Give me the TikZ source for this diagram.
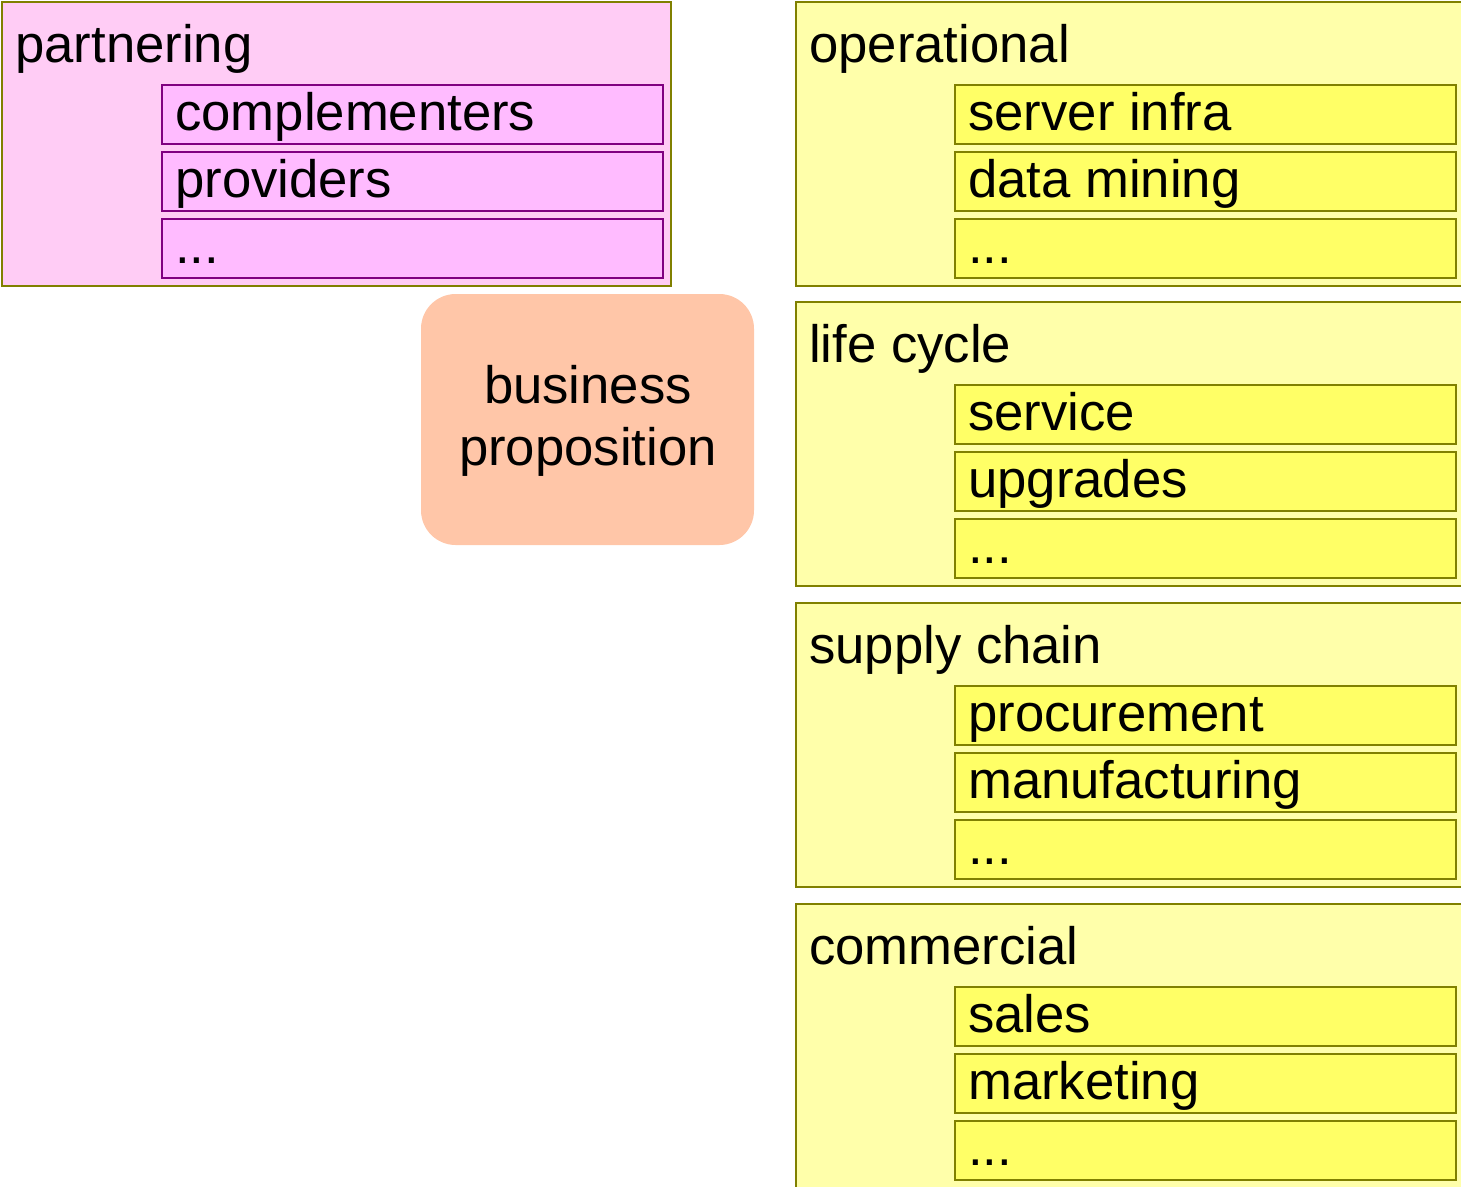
\documentclass[tikz,border=0pt]{standalone}
\usepackage{fontspec}
\setmainfont{Liberation Sans}
\definecolor{pinkbg}{HTML}{FFCCF5}
\definecolor{pinkin}{HTML}{FFBBFF}
\definecolor{purp}{HTML}{800080}
\definecolor{oliv}{HTML}{808000}
\definecolor{yelbg}{HTML}{FFFFAA}
\definecolor{yelin}{HTML}{FFFF66}
\definecolor{peach}{HTML}{FFC6A8}
\begin{document}
\begin{tikzpicture}[x=0.75pt,y=-0.75pt,
  pinkouter/.style={fill=pinkbg,draw=oliv,line width=1.5pt},
  pinkinner/.style={fill=pinkin,draw=purp,line width=1.5pt},
  yelouter/.style={fill=yelbg,draw=oliv,line width=1.5pt},
  yelinner/.style={fill=yelin,draw=oliv,line width=1.5pt},
  bpbox/.style={fill=peach,rounded corners=26pt},
  lbl/.style={anchor=base west,inner sep=0pt,font=\fontsize{39.5}{47}\selectfont},
  clbl/.style={anchor=base,inner sep=0pt,font=\fontsize{39.5}{47}\selectfont}]
\useasboundingbox (0,0) rectangle (1461,1186);
\clip (0,0) rectangle (1461,1186);
% partnering
\filldraw[pinkouter] (2,2) rectangle (671,286);
\filldraw[pinkinner] (162,85) rectangle (663,144);
\filldraw[pinkinner] (162,152) rectangle (663,211);
\filldraw[pinkinner] (162,219) rectangle (663,278);
\node[lbl] (partnering) at (15,62) {partnering};
\node[lbl] (complementers) at (175,130) {complementers};
\node[lbl] (providers) at (175,197) {providers};
\node[lbl] (pdots) at (175,263) {...};
% business proposition
\fill[bpbox] (421,294) rectangle (754,545);
\node[clbl] (business) at (588,403) {business};
\node[clbl] (proposition) at (588,465) {proposition};
% right column
\foreach \t/\name/\a/\b [count=\i] in {2/operational/server infra/data mining,
  302/life cycle/service/upgrades,
  603/supply chain/procurement/manufacturing,
  904/commercial/sales/marketing}{
  \filldraw[yelouter] (796,\t) rectangle (1480,\t+284);
  \filldraw[yelinner] (955,\t+83) rectangle (1456,\t+142);
  \filldraw[yelinner] (955,\t+150) rectangle (1456,\t+209);
  \filldraw[yelinner] (955,\t+217) rectangle (1456,\t+276);
  \node[lbl] (head\i) at (809,\t+60) {\name};
  \node[lbl] (ia\i) at (968,\t+128) {\a};
  \node[lbl] (ib\i) at (968,\t+195) {\b};
  \node[lbl] (ic\i) at (968,\t+261) {...};
}
\end{tikzpicture}
\end{document}
